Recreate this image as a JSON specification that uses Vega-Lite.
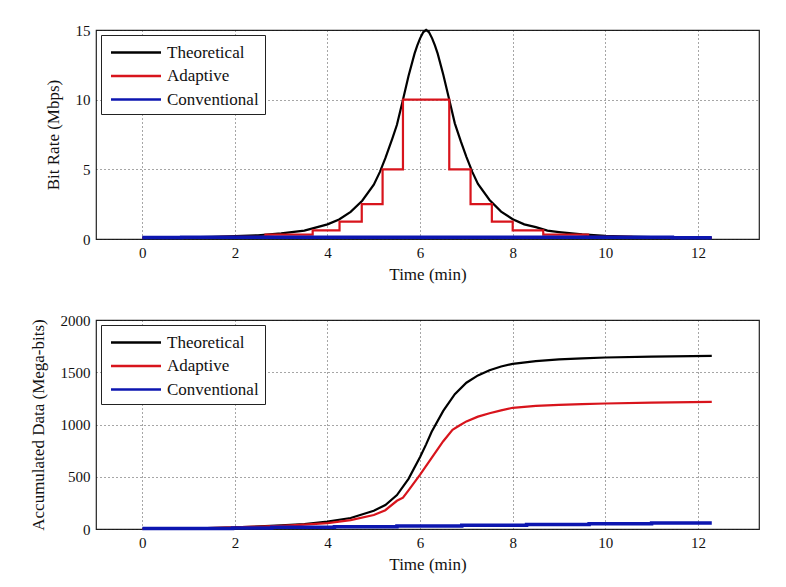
{
  "$schema": "https://vega.github.io/schema/vega-lite/v6.json",
  "background": "white",
  "padding": {"left": 28, "top": 22, "right": 20, "bottom": 6},
  "spacing": 81,
  "bounds": "flush",
  "config": {
    "font": "Liberation Serif",
    "view": {"stroke": "#222", "strokeWidth": 1.2},
    "axis": {
      "labelFont": "Liberation Serif", "labelFontSize": 15, "labelColor": "#111",
      "titleFont": "Liberation Serif", "titleFontSize": 17, "titleFontWeight": "normal", "titleColor": "#111",
      "grid": true, "gridDash": [1, 3], "gridColor": "#111", "gridOpacity": 0.75, "gridWidth": 1,
      "ticks": false, "domain": false, "labelPadding": 6, "format": "d"
    },
    "axisY": {"titlePadding": 13},
    "axisX": {"titlePadding": 6},
    "legend": {
      "orient": "top-left", "offset": 5, "strokeColor": "#222", "fillColor": "white",
      "padding": 6, "symbolType": "M-2.5,0H2.5", "symbolSize": 400, "symbolStrokeWidth": 2.5,
      "symbolOffset": 17.5,
      "labelFont": "Liberation Serif", "labelFontSize": 17, "labelColor": "#111", "labelOffset": 19.5,
      "rowPadding": 3.5, "cornerRadius": 0, "title": null
    }
  },
  "datasets": {
    "rate": [
      {"series": "Theoretical", "t": 0, "v": 0.08}, {"series": "Theoretical", "t": 0.5, "v": 0.1},
      {"series": "Theoretical", "t": 1, "v": 0.12}, {"series": "Theoretical", "t": 1.5, "v": 0.15},
      {"series": "Theoretical", "t": 2, "v": 0.2}, {"series": "Theoretical", "t": 2.5, "v": 0.27},
      {"series": "Theoretical", "t": 3, "v": 0.4}, {"series": "Theoretical", "t": 3.5, "v": 0.6},
      {"series": "Theoretical", "t": 4, "v": 1.05}, {"series": "Theoretical", "t": 4.25, "v": 1.4},
      {"series": "Theoretical", "t": 4.5, "v": 1.95}, {"series": "Theoretical", "t": 4.75, "v": 2.75},
      {"series": "Theoretical", "t": 5, "v": 3.9}, {"series": "Theoretical", "t": 5.13, "v": 4.8},
      {"series": "Theoretical", "t": 5.25, "v": 5.8}, {"series": "Theoretical", "t": 5.4, "v": 7.2},
      {"series": "Theoretical", "t": 5.5, "v": 8.2}, {"series": "Theoretical", "t": 5.63, "v": 10},
      {"series": "Theoretical", "t": 5.75, "v": 11.7}, {"series": "Theoretical", "t": 5.88, "v": 13.3},
      {"series": "Theoretical", "t": 5.94, "v": 13.9}, {"series": "Theoretical", "t": 6.0, "v": 14.4},
      {"series": "Theoretical", "t": 6.07, "v": 14.85}, {"series": "Theoretical", "t": 6.13, "v": 15},
      {"series": "Theoretical", "t": 6.19, "v": 14.85}, {"series": "Theoretical", "t": 6.26, "v": 14.4},
      {"series": "Theoretical", "t": 6.32, "v": 13.9}, {"series": "Theoretical", "t": 6.38, "v": 13.3},
      {"series": "Theoretical", "t": 6.5, "v": 11.8}, {"series": "Theoretical", "t": 6.63, "v": 10},
      {"series": "Theoretical", "t": 6.75, "v": 8.3}, {"series": "Theoretical", "t": 6.88, "v": 7.0},
      {"series": "Theoretical", "t": 7.0, "v": 5.9}, {"series": "Theoretical", "t": 7.13, "v": 4.8},
      {"series": "Theoretical", "t": 7.25, "v": 3.95}, {"series": "Theoretical", "t": 7.5, "v": 2.8},
      {"series": "Theoretical", "t": 7.75, "v": 1.97}, {"series": "Theoretical", "t": 8, "v": 1.42},
      {"series": "Theoretical", "t": 8.25, "v": 1.05}, {"series": "Theoretical", "t": 8.5, "v": 0.85},
      {"series": "Theoretical", "t": 8.75, "v": 0.6}, {"series": "Theoretical", "t": 9, "v": 0.5},
      {"series": "Theoretical", "t": 9.5, "v": 0.33}, {"series": "Theoretical", "t": 10, "v": 0.23},
      {"series": "Theoretical", "t": 10.5, "v": 0.17}, {"series": "Theoretical", "t": 11, "v": 0.14},
      {"series": "Theoretical", "t": 11.5, "v": 0.11}, {"series": "Theoretical", "t": 12, "v": 0.09},
      {"series": "Theoretical", "t": 12.3, "v": 0.08},
      {"series": "Adaptive", "t": 0, "v": 0.078}, {"series": "Adaptive", "t": 1.7, "v": 0.156},
      {"series": "Adaptive", "t": 2.66, "v": 0.3125}, {"series": "Adaptive", "t": 3.68, "v": 0.625},
      {"series": "Adaptive", "t": 4.26, "v": 1.25}, {"series": "Adaptive", "t": 4.74, "v": 2.5},
      {"series": "Adaptive", "t": 5.19, "v": 5}, {"series": "Adaptive", "t": 5.63, "v": 10},
      {"series": "Adaptive", "t": 6.63, "v": 5}, {"series": "Adaptive", "t": 7.09, "v": 2.5},
      {"series": "Adaptive", "t": 7.55, "v": 1.25}, {"series": "Adaptive", "t": 8.0, "v": 0.625},
      {"series": "Adaptive", "t": 8.66, "v": 0.3125}, {"series": "Adaptive", "t": 9.63, "v": 0.156},
      {"series": "Adaptive", "t": 10.56, "v": 0.078}, {"series": "Adaptive", "t": 12.3, "v": 0.078},
      {"series": "Conventional", "t": 0, "v": 0.1}, {"series": "Conventional", "t": 0.85, "v": 0.13},
      {"series": "Conventional", "t": 11.45, "v": 0.09}, {"series": "Conventional", "t": 12.3, "v": 0.09}
    ],
    "acc": [
      {"series": "Theoretical", "t": 0, "v": 0}, {"series": "Theoretical", "t": 1, "v": 5},
      {"series": "Theoretical", "t": 2, "v": 15}, {"series": "Theoretical", "t": 3, "v": 35},
      {"series": "Theoretical", "t": 3.5, "v": 48}, {"series": "Theoretical", "t": 4, "v": 70},
      {"series": "Theoretical", "t": 4.5, "v": 105}, {"series": "Theoretical", "t": 5, "v": 175},
      {"series": "Theoretical", "t": 5.25, "v": 230}, {"series": "Theoretical", "t": 5.5, "v": 325},
      {"series": "Theoretical", "t": 5.75, "v": 480}, {"series": "Theoretical", "t": 6.0, "v": 690},
      {"series": "Theoretical", "t": 6.13, "v": 810}, {"series": "Theoretical", "t": 6.25, "v": 930},
      {"series": "Theoretical", "t": 6.5, "v": 1130}, {"series": "Theoretical", "t": 6.75, "v": 1290},
      {"series": "Theoretical", "t": 7.0, "v": 1400}, {"series": "Theoretical", "t": 7.25, "v": 1470},
      {"series": "Theoretical", "t": 7.5, "v": 1520}, {"series": "Theoretical", "t": 7.75, "v": 1555},
      {"series": "Theoretical", "t": 8, "v": 1580}, {"series": "Theoretical", "t": 8.5, "v": 1607},
      {"series": "Theoretical", "t": 9, "v": 1623}, {"series": "Theoretical", "t": 9.5, "v": 1633},
      {"series": "Theoretical", "t": 10, "v": 1641}, {"series": "Theoretical", "t": 11, "v": 1650},
      {"series": "Theoretical", "t": 12.3, "v": 1657},
      {"series": "Adaptive", "t": 0, "v": 0}, {"series": "Adaptive", "t": 1, "v": 5},
      {"series": "Adaptive", "t": 2, "v": 15}, {"series": "Adaptive", "t": 3, "v": 30},
      {"series": "Adaptive", "t": 3.5, "v": 42}, {"series": "Adaptive", "t": 4, "v": 57},
      {"series": "Adaptive", "t": 4.5, "v": 85}, {"series": "Adaptive", "t": 5, "v": 134},
      {"series": "Adaptive", "t": 5.25, "v": 180}, {"series": "Adaptive", "t": 5.5, "v": 270},
      {"series": "Adaptive", "t": 5.63, "v": 300}, {"series": "Adaptive", "t": 5.75, "v": 370},
      {"series": "Adaptive", "t": 6.0, "v": 520}, {"series": "Adaptive", "t": 6.25, "v": 680},
      {"series": "Adaptive", "t": 6.5, "v": 840}, {"series": "Adaptive", "t": 6.7, "v": 950},
      {"series": "Adaptive", "t": 6.85, "v": 990}, {"series": "Adaptive", "t": 7.0, "v": 1030},
      {"series": "Adaptive", "t": 7.25, "v": 1075}, {"series": "Adaptive", "t": 7.5, "v": 1108},
      {"series": "Adaptive", "t": 7.75, "v": 1135}, {"series": "Adaptive", "t": 8, "v": 1160},
      {"series": "Adaptive", "t": 8.5, "v": 1178}, {"series": "Adaptive", "t": 9, "v": 1188},
      {"series": "Adaptive", "t": 9.5, "v": 1195}, {"series": "Adaptive", "t": 10, "v": 1201},
      {"series": "Adaptive", "t": 11, "v": 1210}, {"series": "Adaptive", "t": 12.3, "v": 1217},
      {"series": "Conventional", "t": 0, "v": 5}, {"series": "Conventional", "t": 1.95, "v": 10},
      {"series": "Conventional", "t": 2.8, "v": 16}, {"series": "Conventional", "t": 4.15, "v": 22},
      {"series": "Conventional", "t": 5.5, "v": 29}, {"series": "Conventional", "t": 6.9, "v": 36},
      {"series": "Conventional", "t": 8.3, "v": 43}, {"series": "Conventional", "t": 9.65, "v": 50},
      {"series": "Conventional", "t": 11.0, "v": 58}, {"series": "Conventional", "t": 12.3, "v": 58}
    ]
  },
  "vconcat": [
    {
      "width": 663, "height": 209,
      "data": {"name": "rate"},
      "encoding": {
        "x": {"field": "t", "type": "quantitative", "scale": {"domain": [-1, 13.32], "nice": false, "zero": false},
              "axis": {"values": [0, 2, 4, 6, 8, 10, 12], "title": "Time (min)"}},
        "y": {"field": "v", "type": "quantitative", "scale": {"domain": [0, 15], "nice": false},
              "axis": {"values": [0, 5, 10, 15], "title": "Bit Rate (Mbps)"}},
        "color": {"field": "series", "type": "nominal",
                  "scale": {"domain": ["Theoretical", "Adaptive", "Conventional"], "range": ["#000000", "#d8141c", "#0c16b0"]}}
      },
      "layer": [
        {"transform": [{"filter": "datum.series === 'Theoretical'"}], "mark": {"type": "line", "strokeWidth": 2.2}},
        {"transform": [{"filter": "datum.series === 'Adaptive'"}], "mark": {"type": "line", "strokeWidth": 2.2, "interpolate": "step-after"}},
        {"transform": [{"filter": "datum.series === 'Conventional'"}], "mark": {"type": "line", "strokeWidth": 3.5, "interpolate": "step-after"}}
      ]
    },
    {
      "width": 663, "height": 209,
      "data": {"name": "acc"},
      "encoding": {
        "x": {"field": "t", "type": "quantitative", "scale": {"domain": [-1, 13.32], "nice": false, "zero": false},
              "axis": {"values": [0, 2, 4, 6, 8, 10, 12], "title": "Time (min)"}},
        "y": {"field": "v", "type": "quantitative", "scale": {"domain": [0, 2000], "nice": false},
              "axis": {"values": [0, 500, 1000, 1500, 2000], "title": "Accumulated Data (Mega-bits)"}},
        "color": {"field": "series", "type": "nominal",
                  "scale": {"domain": ["Theoretical", "Adaptive", "Conventional"], "range": ["#000000", "#d8141c", "#0c16b0"]}}
      },
      "layer": [
        {"transform": [{"filter": "datum.series === 'Theoretical'"}], "mark": {"type": "line", "strokeWidth": 2.2}},
        {"transform": [{"filter": "datum.series === 'Adaptive'"}], "mark": {"type": "line", "strokeWidth": 2.2}},
        {"transform": [{"filter": "datum.series === 'Conventional'"}], "mark": {"type": "line", "strokeWidth": 3.5, "interpolate": "step-after"}}
      ]
    }
  ],
  "resolve": {"scale": {"color": "independent", "y": "independent"}, "legend": {"color": "independent"}}
}
